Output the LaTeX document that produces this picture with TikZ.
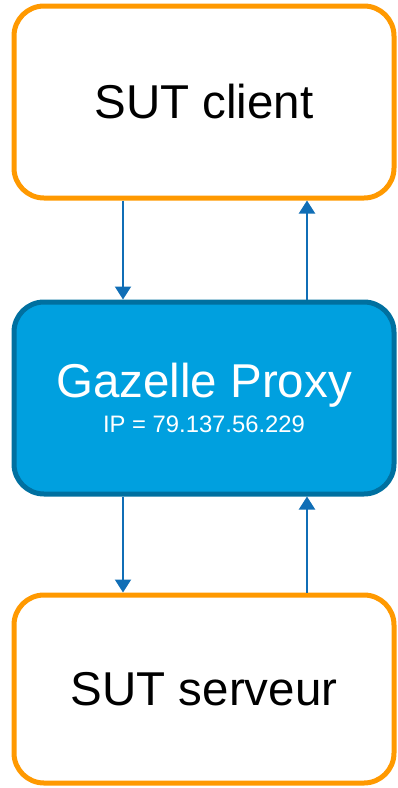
\documentclass[tikz,border=0pt]{standalone}
\usepackage{fontspec}
\setmainfont{Liberation Sans}
\usetikzlibrary{arrows.meta}
\definecolor{boxorange}{RGB}{255,153,0}
\definecolor{proxyfill}{RGB}{0,160,223}
\definecolor{proxyline}{RGB}{0,112,160}
\definecolor{arrowblue}{RGB}{16,110,182}
\tikzset{
  sutbox/.style={draw=boxorange, line width=5pt, fill=white, rounded corners=30pt,
    minimum width=380pt, inner sep=0pt, font=\fontsize{47.5}{57}\selectfont, text=black},
  proxybox/.style={draw=proxyline, line width=5pt, fill=proxyfill, rounded corners=30pt,
    minimum width=380pt, minimum height=192pt, inner sep=0pt, text=white, align=center},
  flow/.style={draw=arrowblue, line width=2pt, -{Triangle[width=16pt,length=13pt]}}
}
\begin{document}
\begin{tikzpicture}[x=1pt,y=1pt]
\useasboundingbox (0,0) rectangle (397,-788);
\node[sutbox, minimum height=192pt] (client) at (204,-102) {SUT client};
\node[proxybox] (proxy) at (204,-398) {{\fontsize{47.5}{50}\selectfont Gazelle Proxy}\\[8pt]{\fontsize{23.8}{28}\selectfont IP = 79.137.56.229}};
\node[sutbox, minimum height=188pt] (server) at (204,-689) {SUT serveur};
\coordinate (c1) at (123,0);
\coordinate (c2) at (307,0);
\draw[flow] (client.south -| c1) -- (proxy.north -| c1);
\draw[flow] (proxy.north -| c2) -- (client.south -| c2);
\draw[flow] (proxy.south -| c1) -- (server.north -| c1);
\draw[flow] (server.north -| c2) -- (proxy.south -| c2);
\end{tikzpicture}
\end{document}
